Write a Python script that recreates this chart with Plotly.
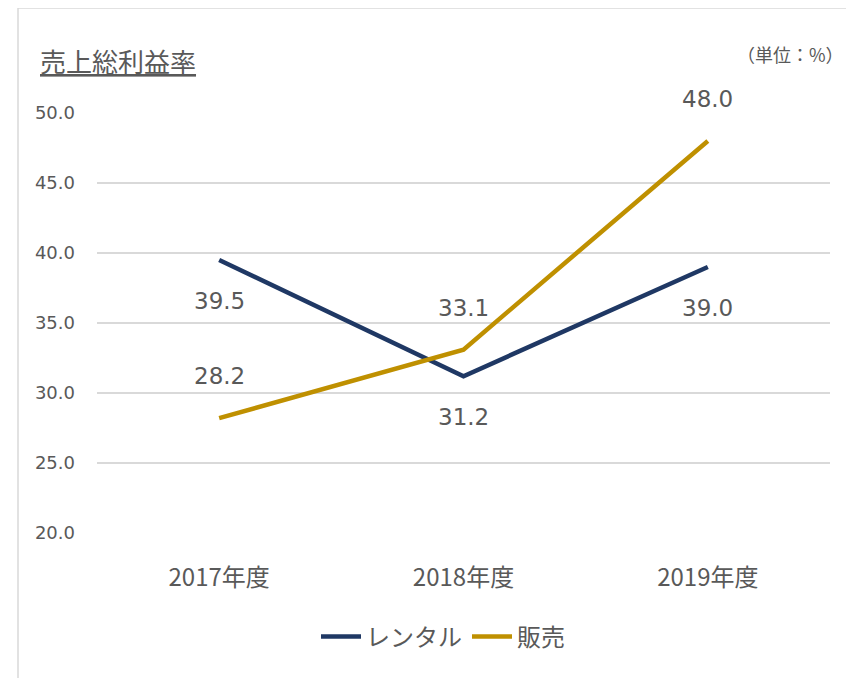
import plotly.graph_objects as go

categories = ["2017年度", "2018年度", "2019年度"]
rental = [39.5, 31.2, 39.0]
sales = [28.2, 33.1, 48.0]
rental_name = "レンタル"
sales_name = "販売"
y_ticks = [20, 25, 30, 35, 40, 45, 50]
y_ticktext = ["20.0", "25.0", "30.0", "35.0", "40.0", "45.0", "50.0"]
title_text = "売上総利益率"
unit_text = "（単位：%）"

CJK = "Noto Sans CJK JP, Noto Sans, sans-serif"
NUM = "DejaVu Sans, Verdana, sans-serif"
TXT = "#595959"
NAVY = "#1F3864"
GOLD = "#BF9000"

# page has an 8px body margin; plot area in page coords: x 97..830, y 113..533
PX0, PX1, PY0, PY1 = 97, 830, 113, 533
def px(x):
    return (x - PX0) / (PX1 - PX0)
def py(y):
    return (PY1 - y) / (PY1 - PY0)

fig = go.Figure()
fig.add_trace(go.Scatter(x=categories, y=rental, name=rental_name, mode="lines",
                         line=dict(color=NAVY, width=4.5)))
fig.add_trace(go.Scatter(x=categories, y=sales, name=sales_name, mode="lines",
                         line=dict(color=GOLD, width=4.5)))

for c, v in zip(categories, rental):
    fig.add_annotation(x=c, y=v, text=f"{v:.1f}", showarrow=False, yshift=-41,
                       font=dict(family=NUM, size=23, color=TXT))
for c, v in zip(categories, sales):
    fig.add_annotation(x=c, y=v, text=f"{v:.1f}", showarrow=False, yshift=42,
                       font=dict(family=NUM, size=23, color=TXT))

fig.add_annotation(xref="paper", yref="paper", x=px(38), y=py(60),
                   xanchor="left", yanchor="middle", showarrow=False,
                   text=f"<u>{title_text}</u>", font=dict(family=CJK, size=26, color=TXT))
fig.add_annotation(xref="paper", yref="paper", x=px(846), y=py(54),
                   xanchor="right", yanchor="middle", showarrow=False,
                   text=unit_text, font=dict(family=CJK, size=18, color=TXT))

fig.add_shape(type="rect", xref="paper", yref="paper",
              x0=px(18), x1=px(880), y0=py(720), y1=py(8),
              line=dict(color="#d9d9d9", width=1.5), fillcolor="rgba(0,0,0,0)", layer="below")

W, H = 846, 670
fig.update_layout(
    width=W, height=H,
    margin=dict(l=PX0 - 8, r=W + 8 - PX1, t=PY0 - 8, b=H + 8 - PY1),
    paper_bgcolor="white", plot_bgcolor="white",
    font=dict(family=CJK, color=TXT),
    showlegend=True,
    legend=dict(orientation="h", x=px(443), xanchor="center", y=py(637), yanchor="middle",
                font=dict(family=CJK, size=24, color=TXT), itemwidth=40),
    xaxis=dict(range=[-0.5, 2.5], showgrid=False, zeroline=False, showline=False,
               tickfont=dict(family=CJK, size=24, color=TXT), ticklabelstandoff=28),
    yaxis=dict(range=[20, 50], tickvals=y_ticks, ticktext=y_ticktext, showgrid=True,
               gridcolor="#d9d9d9", gridwidth=1.5, zeroline=False, showline=False,
               tickfont=dict(family=NUM, size=18, color=TXT), ticklabelstandoff=21),
)

fig.write_html("out.html")
